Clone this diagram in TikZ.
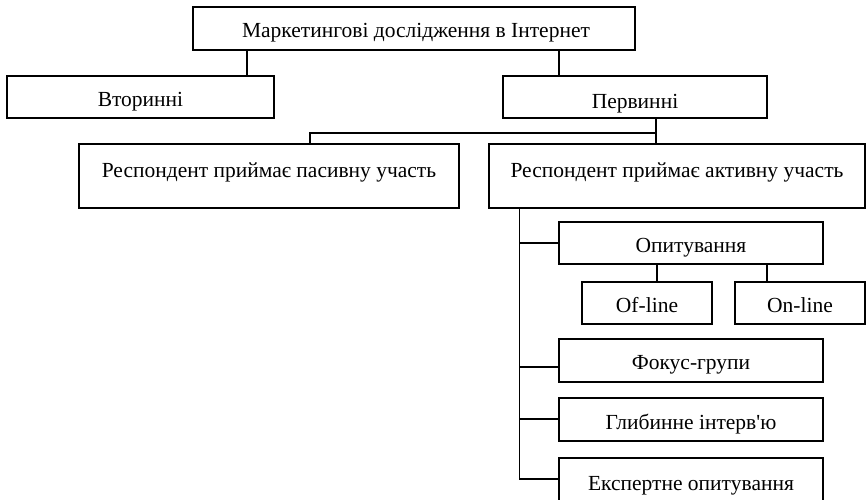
\documentclass[tikz,border=0pt]{standalone}
\usepackage{fontspec}
\setmainfont{Liberation Serif}[Ligatures=TeXOff]
\begin{document}
\begin{tikzpicture}[x=1pt,y=-1pt,
  box/.style={draw=black, line width=1.5pt, inner sep=0pt},
  lbl/.style={anchor=base, inner sep=0pt, font=\fontsize{21.5}{25}\selectfont},
  conn/.style={draw=black, line width=1.5pt}]
\useasboundingbox (0,0) rectangle (866,499);
% boxes
\node[box, minimum width=442pt, minimum height=43pt] (top) at (414,28.5) {};
\node[box, minimum width=267pt, minimum height=42pt] (vtor) at (140.5,97) {};
\node[box, minimum width=264pt, minimum height=42pt] (perv) at (635,97) {};
\node[box, minimum width=380pt, minimum height=64pt] (pas) at (269,176) {};
\node[box, minimum width=376pt, minimum height=64pt] (act) at (677,176) {};
\node[box, minimum width=264pt, minimum height=42pt] (opyt) at (691,243) {};
\node[box, minimum width=130pt, minimum height=42pt] (ofl) at (647,303) {};
\node[box, minimum width=130pt, minimum height=42pt] (onl) at (800,303) {};
\node[box, minimum width=264pt, minimum height=43pt] (fok) at (691,360.5) {};
\node[box, minimum width=264pt, minimum height=43pt] (glyb) at (691,419.5) {};
\node[inner sep=0pt, minimum width=264pt, minimum height=54pt] (exp) at (691,485) {};
\draw[conn] (exp.south west) -- (exp.north west) -- (exp.north east) -- (exp.south east);
% labels
\node[lbl] (tTop) at (416,37) {Маркетингові дослідження в Інтернет};
\node[lbl] (tVtor) at (140.5,106) {Вторинні};
\node[lbl] (tPerv) at (635,108) {Первинні};
\node[lbl] (tPas) at (269,177) {Респондент приймає пасивну участь};
\node[lbl] (tAct) at (677,177) {Респондент приймає активну участь};
\node[lbl] (tOpyt) at (691,252) {Опитування};
\node[lbl] (tOfl) at (647,312) {Of-line};
\node[lbl] (tOnl) at (800,312) {On-line};
\node[lbl] (tFok) at (691,369) {Фокус-групи};
\node[lbl] (tGlyb) at (691,429) {Глибинне інтерв'ю};
\node[lbl] (tExp) at (691,490) {Експертне опитування};
% connector helper coordinates
\coordinate (xa) at (247,0);
\coordinate (xb) at (559,0);
\coordinate (xc) at (656,0);
\coordinate (xd) at (310,133);
\coordinate (xe) at (519.5,0);
\coordinate (xf) at (657,0);
\coordinate (xg) at (767,0);
\coordinate (ya) at (0,133);
\coordinate (yb) at (0,367);
\coordinate (yc) at (0,419);
\coordinate (yd) at (0,479);
% connectors
\draw[conn] (top.south -| xa) -- (vtor.north -| xa);
\draw[conn] (top.south -| xb) -- (perv.north -| xb);
\draw[conn] (perv.south -| xc) -- (act.north -| xc);
\draw[conn] (xc |- ya) -- (xd) -- (pas.north -| xd);
\draw[conn] (act.south -| xe) -- (xe |- yd) -- (exp.west |- yd);
\draw[conn] (xe |- opyt.west) -- (opyt.west);
\draw[conn] (xe |- yb) -- (fok.west |- yb);
\draw[conn] (xe |- yc) -- (glyb.west |- yc);
\draw[conn] (opyt.south -| xf) -- (ofl.north -| xf);
\draw[conn] (opyt.south -| xg) -- (onl.north -| xg);
\end{tikzpicture}
\end{document}
